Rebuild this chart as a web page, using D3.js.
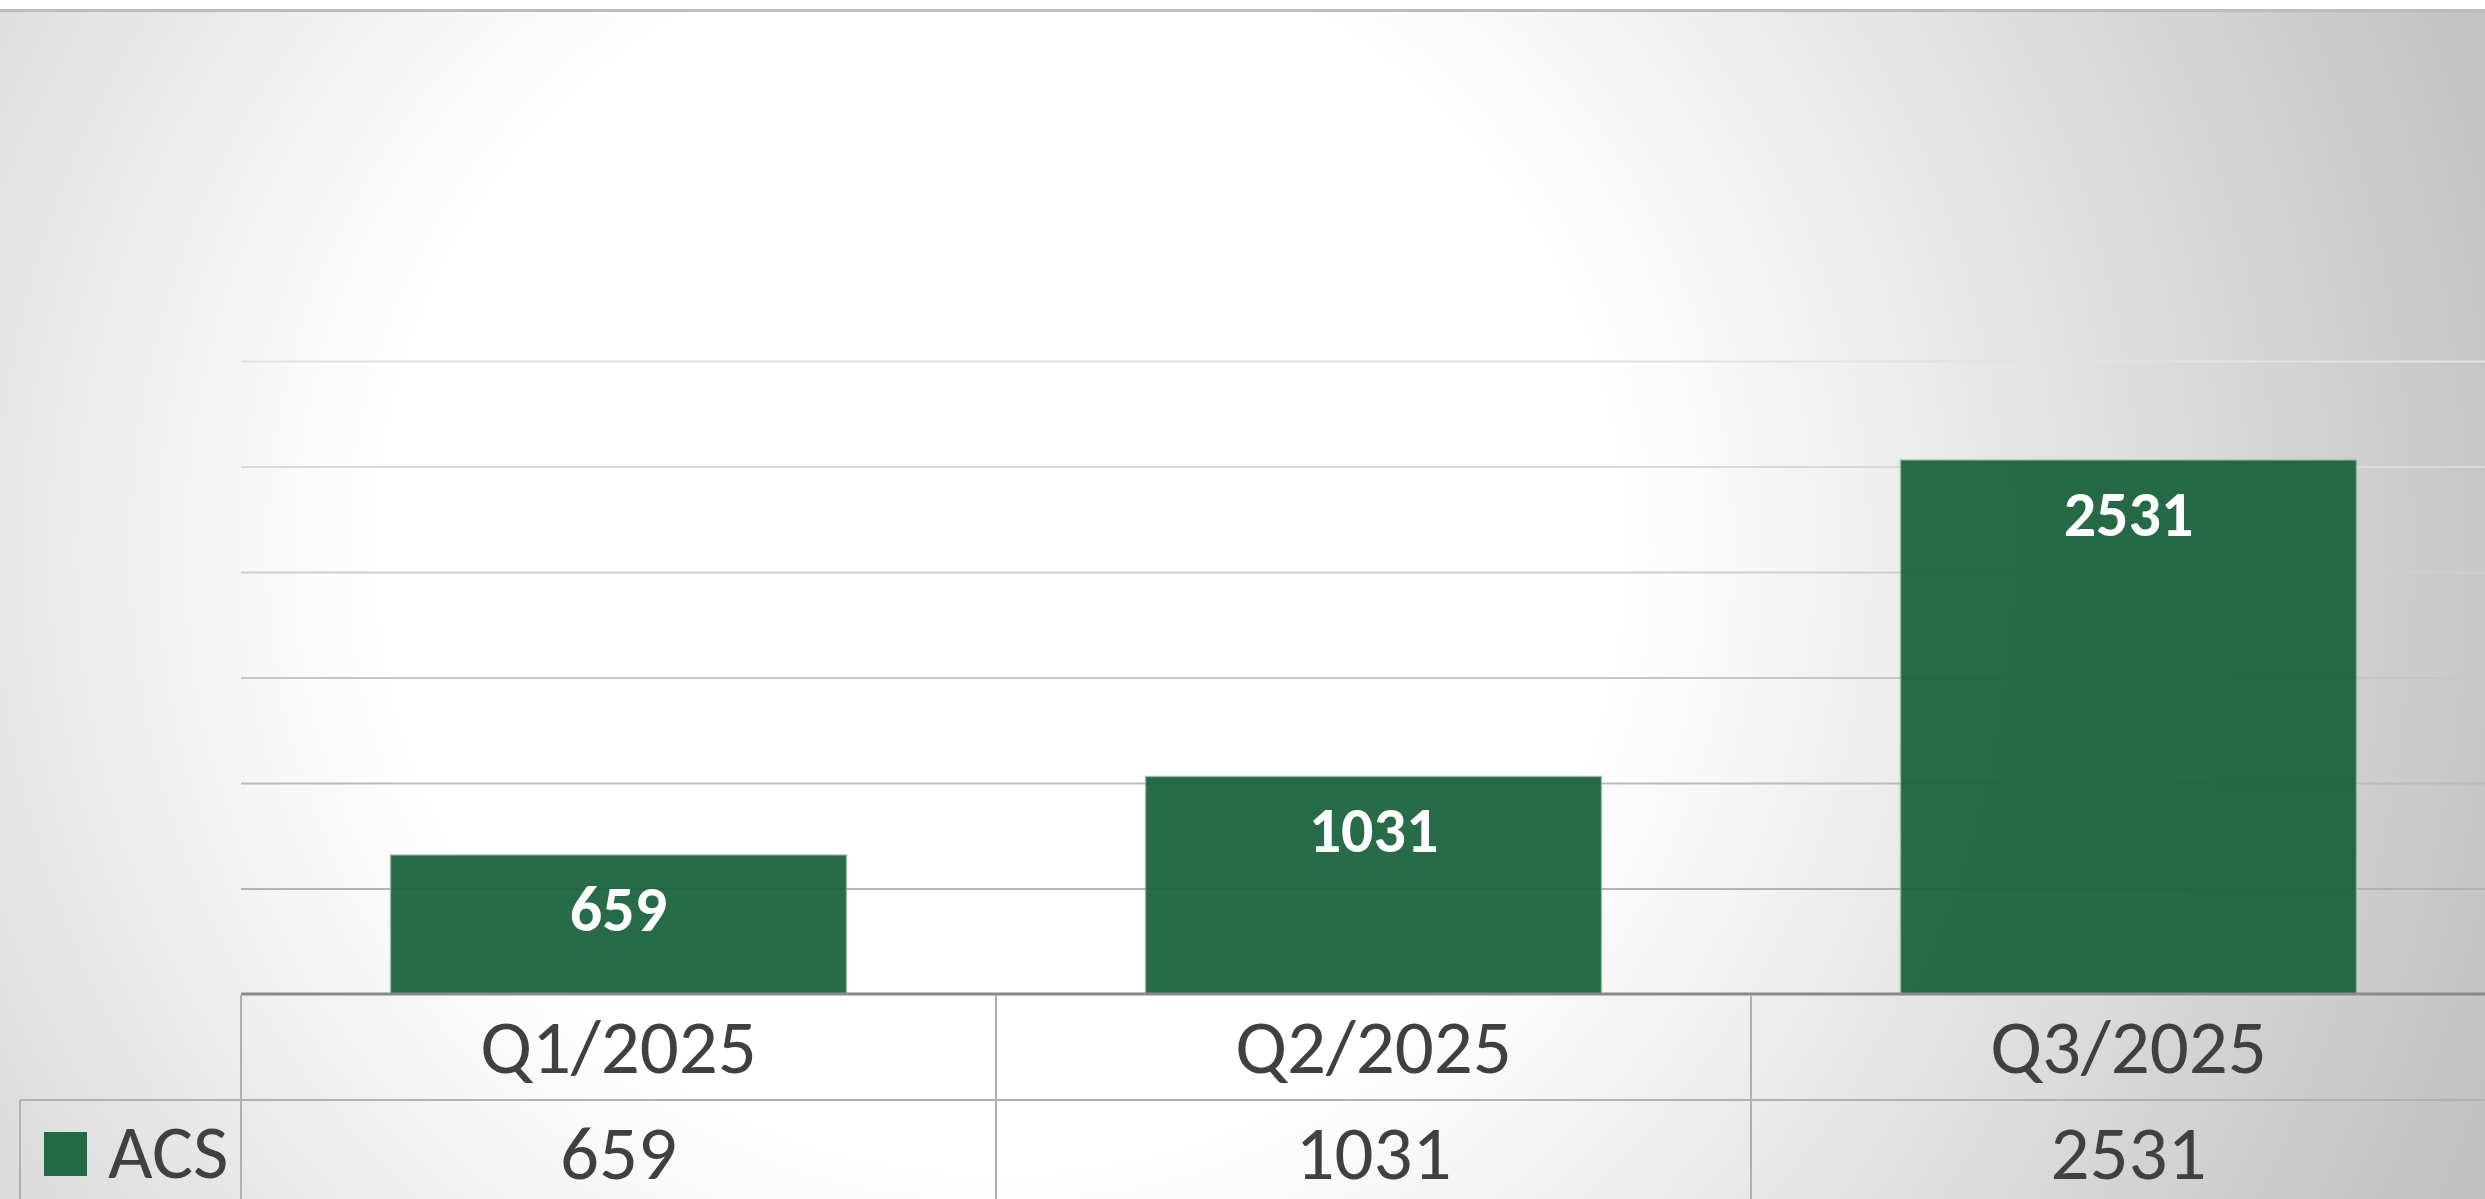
<!DOCTYPE html>
<html lang="en">
<head>
    <meta charset="UTF-8">
    <title>ACS per quarter</title>
    <script src="https://d3js.org/d3.v7.min.js"></script>
    <style>
        body {
            margin: 0;
            background: #ffffff;
            overflow: hidden;
        }
        svg text {
            font-family: Carlito, Lato, 'Open Sans', sans-serif;
        }
    </style>
</head>
<body>
    <div id="chart"></div>

    <script>
        // data
        const categories = ["Q1/2025", "Q2/2025", "Q3/2025"];
        const seriesName = "ACS";
        const acsValues = [659, 1031, 2531];
        const yTicks = [0, 500, 1000, 1500, 2000, 2500, 3000];

        const width = 2485, height = 1199;
        const plotLeft = 241, plotRight = 2506;
        const axisY = 994, plotTop = 361;
        const rowH = 106;   // height of the data table rows

        const svg = d3.select("#chart")
            .append("svg")
            .attr("width", width)
            .attr("height", height);

        // soft radial background
        const defs = svg.append("defs");
        const grad = defs.append("radialGradient")
            .attr("id", "bg")
            .attr("gradientUnits", "userSpaceOnUse")
            .attr("cx", 1000).attr("cy", 550).attr("r", 1600);
        grad.append("stop").attr("offset", 0).attr("stop-color", "#ffffff");
        grad.append("stop").attr("offset", 0.3875).attr("stop-color", "#ffffff");
        grad.append("stop").attr("offset", 1).attr("stop-color", "#c0c0c0");

        svg.append("rect")
            .attr("x", 0).attr("y", 11)
            .attr("width", width).attr("height", height - 11)
            .attr("fill", "url(#bg)");
        svg.append("line")
            .attr("x1", 0).attr("x2", width)
            .attr("y1", 10.5).attr("y2", 10.5)
            .attr("stroke", "#bdbdbd")
            .attr("stroke-width", 3);

        const x = d3.scaleBand()
            .domain(categories)
            .range([plotLeft, plotRight])
            .paddingInner(0.396)
            .paddingOuter(0.198);

        const y = d3.scaleLinear()
            .domain([0, 3000])
            .range([axisY, plotTop]);

        const gridColor = d3.scaleLinear()
            .domain([plotTop, axisY])
            .range(["#e2e2e2", "#a9a9a9"]);

        // gridlines
        const grid = svg.append("g")
            .attr("transform", `translate(${plotLeft},0)`)
            .call(d3.axisLeft(y).tickValues(yTicks.slice(1)).tickSize(-(plotRight - plotLeft)).tickFormat(""));
        grid.select(".domain").remove();
        grid.selectAll(".tick line")
            .attr("stroke", d => gridColor(y(d)))
            .attr("stroke-width", 2);

        // bars
        svg.append("g").selectAll("rect")
            .data(acsValues)
            .enter().append("rect")
            .attr("x", (d, i) => x(categories[i]))
            .attr("y", d => y(d))
            .attr("width", x.bandwidth())
            .attr("height", d => y(0) - y(d))
            .attr("fill", "#18603a")
            .attr("fill-opacity", 0.93)
            .attr("stroke", "#9fbfaa")
            .attr("stroke-opacity", 0.7)
            .attr("stroke-width", 1.5);

        // labels inside bars
        svg.append("g").selectAll("text")
            .data(acsValues)
            .enter().append("text")
            .attr("x", (d, i) => x(categories[i]) + x.bandwidth() / 2)
            .attr("y", d => y(d) + 76)
            .attr("text-anchor", "middle")
            .attr("fill", "#ffffff")
            .attr("font-weight", "bold")
            .attr("font-size", 64)
            .text(d => d);

        // x axis line
        svg.append("line")
            .attr("x1", plotLeft).attr("x2", width)
            .attr("y1", axisY).attr("y2", axisY)
            .attr("stroke", "#8a8a8a")
            .attr("stroke-width", 3);

        // data table under the axis
        const table = svg.append("g")
            .attr("stroke", "#b0b0b0")
            .attr("stroke-width", 2);
        const step = x.step();
        const colEdges = d3.range(categories.length).map(i => plotLeft + i * step);

        table.selectAll(".vline")
            .data(colEdges)
            .enter().append("line")
            .attr("x1", d => d).attr("x2", d => d)
            .attr("y1", axisY + 1).attr("y2", height);
        table.append("line")
            .attr("x1", 20).attr("x2", width)
            .attr("y1", axisY + rowH).attr("y2", axisY + rowH);
        table.append("line")
            .attr("x1", 20).attr("x2", 20)
            .attr("y1", axisY + rowH).attr("y2", height);

        svg.append("g").selectAll("text")
            .data(categories)
            .enter().append("text")
            .attr("x", d => x(d) + x.bandwidth() / 2)
            .attr("y", 1073)
            .attr("text-anchor", "middle")
            .attr("fill", "#404040")
            .attr("font-size", 77)
            .text(d => d);

        svg.append("g").selectAll("text")
            .data(acsValues)
            .enter().append("text")
            .attr("x", (d, i) => x(categories[i]) + x.bandwidth() / 2)
            .attr("y", 1179)
            .attr("text-anchor", "middle")
            .attr("fill", "#404040")
            .attr("font-size", 77)
            .text(d => d);

        // legend key in the table
        svg.append("rect")
            .attr("x", 44).attr("y", 1132)
            .attr("width", 43).attr("height", 44)
            .attr("fill", "#216a42");
        svg.append("text")
            .attr("x", 108).attr("y", 1178)
            .attr("fill", "#404040")
            .attr("font-size", 77)
            .text(seriesName);
    </script>
</body>
</html>
